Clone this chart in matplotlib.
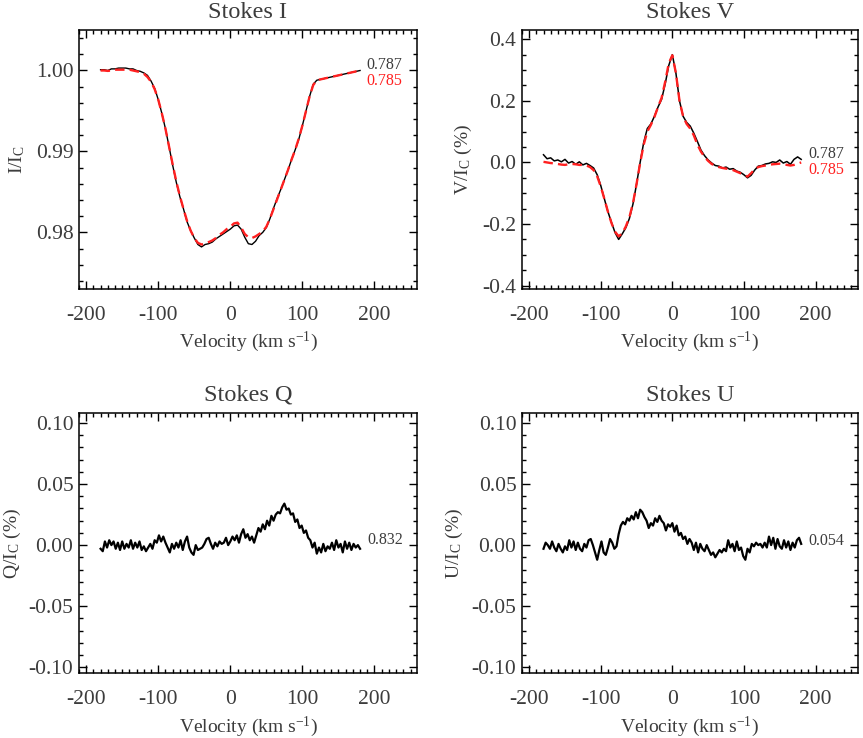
"""Four-panel Stokes I/V/Q/U line profiles (observed vs. model)."""
import matplotlib

matplotlib.use("Agg")

import matplotlib.pyplot as plt
from matplotlib.ticker import MultipleLocator

plt.rcParams.update({
    "font.family": "serif",
    "font.serif": ["Liberation Serif", "DejaVu Serif"],
    "mathtext.fontset": "custom",
    "mathtext.rm": "Liberation Serif",
    "mathtext.it": "Liberation Serif:italic",
    "axes.unicode_minus": False,
})

TEXT = "#3c3c3c"
RED = "#ff2020"

# --- data ---------------------------------------------------------------
VEL_IV = [-180, -175, -170, -165, -160, -155, -150, -145, -140, -135, -130,
          -125, -120, -115, -110, -105, -100, -95, -90, -85, -80, -75, -70,
          -65, -60, -55, -50, -45, -40, -35, -30, -25, -20, -15, -10, -5, 0,
          5, 10, 15, 20, 25, 30, 35, 40, 45, 50, 55, 60, 65, 70, 75, 80, 85,
          90, 95, 100, 105, 110, 115, 120, 125, 130, 135, 140, 145, 150, 155,
          160, 165, 170, 175, 180]

I_OBS = [1.0001, 1.0001, 1.0000, 1.0002, 1.0002, 1.0003, 1.0003, 1.0003,
         1.0002, 1.0002, 1.0000, 0.9999, 0.9997, 0.9994, 0.9987, 0.9978,
         0.9964, 0.9947, 0.9928, 0.9906, 0.9883, 0.9862, 0.9844, 0.9829,
         0.9813, 0.9802, 0.9793, 0.9785, 0.9782, 0.9785, 0.9786, 0.9788,
         0.9792, 0.9795, 0.9798, 0.9801, 0.9804, 0.9808, 0.9809, 0.9804,
         0.9794, 0.9786, 0.9785, 0.9789, 0.9796, 0.9800, 0.9806, 0.9817,
         0.9830, 0.9842, 0.9853, 0.9865, 0.9877, 0.9890, 0.9902, 0.9915,
         0.9932, 0.9950, 0.9968, 0.9983, 0.9988, 0.9989, 0.9990, 0.9991,
         0.9992, 0.9993, 0.9994, 0.9995, 0.9996, 0.9997, 0.9998, 0.9999,
         1.0000]

I_MOD = [1.0000, 1.0000, 0.99995, 1.0000, 1.0001, 1.0001, 1.0001, 1.0001,
         1.0001, 1.0000, 0.9999, 0.9998, 0.9996, 0.9992, 0.9986, 0.9977,
         0.9964, 0.9947, 0.9928, 0.9906, 0.9884, 0.9863, 0.9845, 0.9829,
         0.9814, 0.9802, 0.9793, 0.9787, 0.9785, 0.9786, 0.9788, 0.9790,
         0.9793, 0.9797, 0.9800, 0.9804, 0.9807, 0.9811, 0.9812, 0.9806,
         0.9798, 0.9794, 0.9793, 0.9795, 0.9798, 0.9801, 0.9807, 0.9817,
         0.9829, 0.9841, 0.9853, 0.9865, 0.9877, 0.9890, 0.9902, 0.9916,
         0.9932, 0.9950, 0.9968, 0.9982, 0.9988, 0.9989, 0.9990, 0.9991,
         0.9992, 0.9993, 0.9994, 0.9995, 0.9996, 0.9997, 0.9998, 0.9999,
         0.99995]

V_OBS = [0.025, 0.012, 0.015, 0.005, 0.008, 0.002, 0.010, -0.002, 0.003,
         -0.006, 0.002, -0.008, -0.003, -0.010, -0.018, -0.040, -0.075,
         -0.118, -0.160, -0.195, -0.228, -0.250, -0.232, -0.212, -0.182,
         -0.135, -0.070, 0.000, 0.065, 0.110, 0.125, 0.150, 0.180, 0.205,
         0.255, 0.315, 0.350, 0.290, 0.200, 0.150, 0.130, 0.118, 0.095,
         0.068, 0.040, 0.022, 0.008, -0.002, -0.010, -0.012, -0.018, -0.015,
         -0.022, -0.020, -0.028, -0.032, -0.040, -0.050, -0.042, -0.025,
         -0.012, -0.010, -0.005, -0.003, 0.002, 0.000, 0.008, -0.002, 0.003,
         -0.006, 0.010, 0.018, 0.010]

V_MOD = [0.002, 0.000, -0.002, -0.003, -0.005, -0.007, -0.008, -0.006,
         -0.005, -0.006, -0.008, -0.008, -0.010, -0.015, -0.025, -0.045,
         -0.078, -0.118, -0.160, -0.197, -0.225, -0.240, -0.230, -0.208,
         -0.178, -0.132, -0.070, -0.002, 0.058, 0.100, 0.122, 0.148, 0.180,
         0.210, 0.262, 0.322, 0.348, 0.290, 0.200, 0.150, 0.125, 0.110,
         0.088, 0.058, 0.035, 0.018, 0.005, -0.005, -0.010, -0.015, -0.018,
         -0.020, -0.022, -0.025, -0.030, -0.035, -0.040, -0.046, -0.035,
         -0.022, -0.015, -0.012, -0.010, -0.008, -0.006, -0.005, -0.004,
         -0.005, -0.008, -0.010, -0.008, -0.004, 0.000]

VEL_QU = [-180, -177, -174, -171, -168, -165, -162, -159, -156, -153, -150,
          -147, -144, -141, -138, -135, -132, -129, -126, -123, -120, -117,
          -114, -111, -108, -105, -102, -99, -96, -93, -90, -87, -84, -81,
          -78, -75, -72, -69, -66, -63, -60, -57, -54, -51, -48, -45, -42,
          -39, -36, -33, -30, -27, -24, -21, -18, -15, -12, -9, -6, -3, 0, 3,
          6, 9, 12, 15, 18, 21, 24, 27, 30, 33, 36, 39, 42, 45, 48, 51, 54,
          57, 60, 63, 66, 69, 72, 75, 78, 81, 84, 87, 90, 93, 96, 99, 102,
          105, 108, 111, 114, 117, 120, 123, 126, 129, 132, 135, 138, 141,
          144, 147, 150, 153, 156, 159, 162, 165, 168, 171, 174, 177, 180]

Q_OBS = [-0.003, -0.005, 0.003, -0.002, 0.004, 0.000, 0.003, -0.003, 0.002,
         -0.004, 0.003, -0.003, 0.001, -0.002, 0.004, -0.003, 0.002, -0.002,
         0.003, -0.004, -0.001, -0.005, -0.002, 0.001, -0.003, 0.004, 0.002,
         0.008, 0.003, 0.007, 0.002, -0.002, -0.006, 0.001, -0.003, 0.002,
         -0.002, 0.004, -0.004, 0.003, 0.007, -0.002, -0.006, -0.008, 0.000,
         -0.004, -0.003, -0.002, 0.001, 0.005, 0.006, 0.001, -0.003, 0.002,
         -0.001, 0.003, 0.001, 0.002, 0.006, 0.000, 0.003, 0.007, 0.004,
         0.008, 0.002, 0.009, 0.013, 0.006, 0.009, 0.004, 0.007, 0.002,
         0.008, 0.014, 0.011, 0.017, 0.013, 0.020, 0.016, 0.024, 0.020,
         0.025, 0.027, 0.026, 0.031, 0.034, 0.029, 0.030, 0.025, 0.026,
         0.019, 0.021, 0.014, 0.016, 0.010, 0.012, 0.006, 0.004, -0.002,
         0.002, -0.007, -0.002, -0.006, 0.001, -0.005, -0.001, -0.003, 0.002,
         -0.004, 0.004, -0.002, 0.001, -0.006, 0.003, -0.003, 0.002, -0.004,
         0.001, -0.002, 0.000, -0.003]

U_OBS = [-0.003, 0.002, 0.000, -0.003, 0.003, -0.002, -0.005, 0.001, -0.003,
         -0.006, -0.001, -0.004, 0.004, -0.002, 0.003, -0.004, 0.002, -0.003,
         -0.005, 0.001, -0.002, 0.004, 0.005, 0.000, -0.006, -0.012, -0.004,
         0.003, -0.006, -0.008, -0.002, 0.005, 0.002, -0.003, -0.001, 0.009,
         0.016, 0.019, 0.017, 0.022, 0.020, 0.024, 0.021, 0.027, 0.022,
         0.029, 0.027, 0.023, 0.020, 0.014, 0.018, 0.016, 0.022, 0.019,
         0.024, 0.020, 0.018, 0.012, 0.017, 0.015, 0.018, 0.011, 0.016,
         0.008, 0.010, 0.005, 0.007, 0.001, 0.005, 0.002, -0.004, 0.002,
         -0.006, 0.001, -0.003, -0.005, 0.000, -0.004, -0.008, -0.006, -0.010,
         -0.007, -0.004, -0.006, -0.003, -0.005, 0.004, -0.002, 0.001, -0.005,
         0.003, -0.004, -0.002, -0.009, -0.012, -0.003, -0.006, 0.001, -0.001,
         0.002, 0.000, 0.001, -0.002, 0.002, -0.002, 0.007, 0.000, 0.006,
         -0.003, 0.005, -0.001, -0.003, 0.004, -0.002, 0.003, -0.004, 0.002,
         -0.002, 0.004, 0.006, 0.001]

X_TICKS = [-200, -100, 0, 100, 200]
X_TICKLABELS = ["-200", "-100", "0", "100", "200"]
I_TICKS = [0.98, 0.99, 1.00]
I_TICKLABELS = ["0.98", "0.99", "1.00"]
V_TICKS = [-0.4, -0.2, 0.0, 0.2, 0.4]
V_TICKLABELS = ["-0.4", "-0.2", "0.0", "0.2", "0.4"]
QU_TICKS = [-0.10, -0.05, 0.00, 0.05, 0.10]
QU_TICKLABELS = ["-0.10", "-0.05", "0.00", "0.05", "0.10"]


def style_axes(ax, title, ylabel, ylim, yticks, yticklabels, yminor, ylab_x):
    ax.set_xlim(-210, 259)
    ax.set_ylim(*ylim)
    ax.set_xticks(X_TICKS)
    ax.set_xticklabels(X_TICKLABELS)
    ax.set_yticks(yticks)
    ax.set_yticklabels(yticklabels)
    ax.xaxis.set_minor_locator(MultipleLocator(10))
    ax.yaxis.set_minor_locator(MultipleLocator(yminor))
    ax.tick_params(which="both", direction="in", top=True, right=True,
                   color="black", width=1.0, labelcolor=TEXT, labelsize=15.5)
    ax.tick_params(which="major", length=5.5)
    ax.tick_params(which="minor", length=3)
    ax.tick_params(axis="x", which="major", pad=12)
    ax.tick_params(axis="y", which="major", pad=4)
    for spine in ax.spines.values():
        spine.set_linewidth(1.1)
    ax.set_title(title, fontsize=17.5, color=TEXT, pad=9)
    ax.set_xlabel(r"Velocity (km s$^{\mathregular{-1}}$)", fontsize=14,
                  color=TEXT, va="center")
    ax.xaxis.set_label_coords(0.5, -0.205)
    ax.set_ylabel(ylabel, fontsize=14, color=TEXT, va="center")
    ax.yaxis.set_label_coords(ylab_x, 0.5)


fig = plt.figure(figsize=(8.63, 7.38), dpi=100)
ax_i = fig.add_axes([0.0915, 0.6084, 0.3917, 0.3509])
ax_v = fig.add_axes([0.6049, 0.6084, 0.3890, 0.3509])
ax_q = fig.add_axes([0.0915, 0.0877, 0.3917, 0.3523])
ax_u = fig.add_axes([0.6049, 0.0877, 0.3890, 0.3523])

dash = dict(color=RED, lw=1.7, dashes=(4, 2.2))

# Stokes I
ax_i.plot(VEL_IV, I_OBS, color="black", lw=1.0)
ax_i.plot(VEL_IV, I_MOD, **dash)
ax_i.text(189, 1.0007, "0.787", color=TEXT, fontsize=11.5, va="center")
ax_i.text(189, 0.99868, "0.785", color=RED, fontsize=11.5, va="center")
style_axes(ax_i, "Stokes I", r"I/I$_{\mathregular{C}}$", (0.973, 1.005),
           I_TICKS, I_TICKLABELS, 0.002, -0.183)

# Stokes V
ax_v.plot(VEL_IV, V_OBS, color="black", lw=1.1)
ax_v.plot(VEL_IV, V_MOD, **dash)
ax_v.text(190, 0.027, "0.787", color=TEXT, fontsize=11.5, va="center")
ax_v.text(190, -0.025, "0.785", color=RED, fontsize=11.5, va="center")
style_axes(ax_v, "Stokes V", r"V/I$_{\mathregular{C}}$ (%)", (-0.411, 0.43),
           V_TICKS, V_TICKLABELS, 0.05, -0.176)

# Stokes Q
ax_q.plot(VEL_QU, Q_OBS, color="black", lw=1.6)
ax_q.text(190, 0.0038, "0.832", color=TEXT, fontsize=11.5, va="center")
style_axes(ax_q, "Stokes Q", r"Q/I$_{\mathregular{C}}$ (%)", (-0.105, 0.108),
           QU_TICKS, QU_TICKLABELS, 0.01, -0.198)

# Stokes U
ax_u.plot(VEL_QU, U_OBS, color="black", lw=1.6)
ax_u.text(190, 0.0034, "0.054", color=TEXT, fontsize=11.5, va="center")
style_axes(ax_u, "Stokes U", r"U/I$_{\mathregular{C}}$ (%)", (-0.105, 0.108),
           QU_TICKS, QU_TICKLABELS, 0.01, -0.200)

fig.savefig("out.png", dpi=100)
